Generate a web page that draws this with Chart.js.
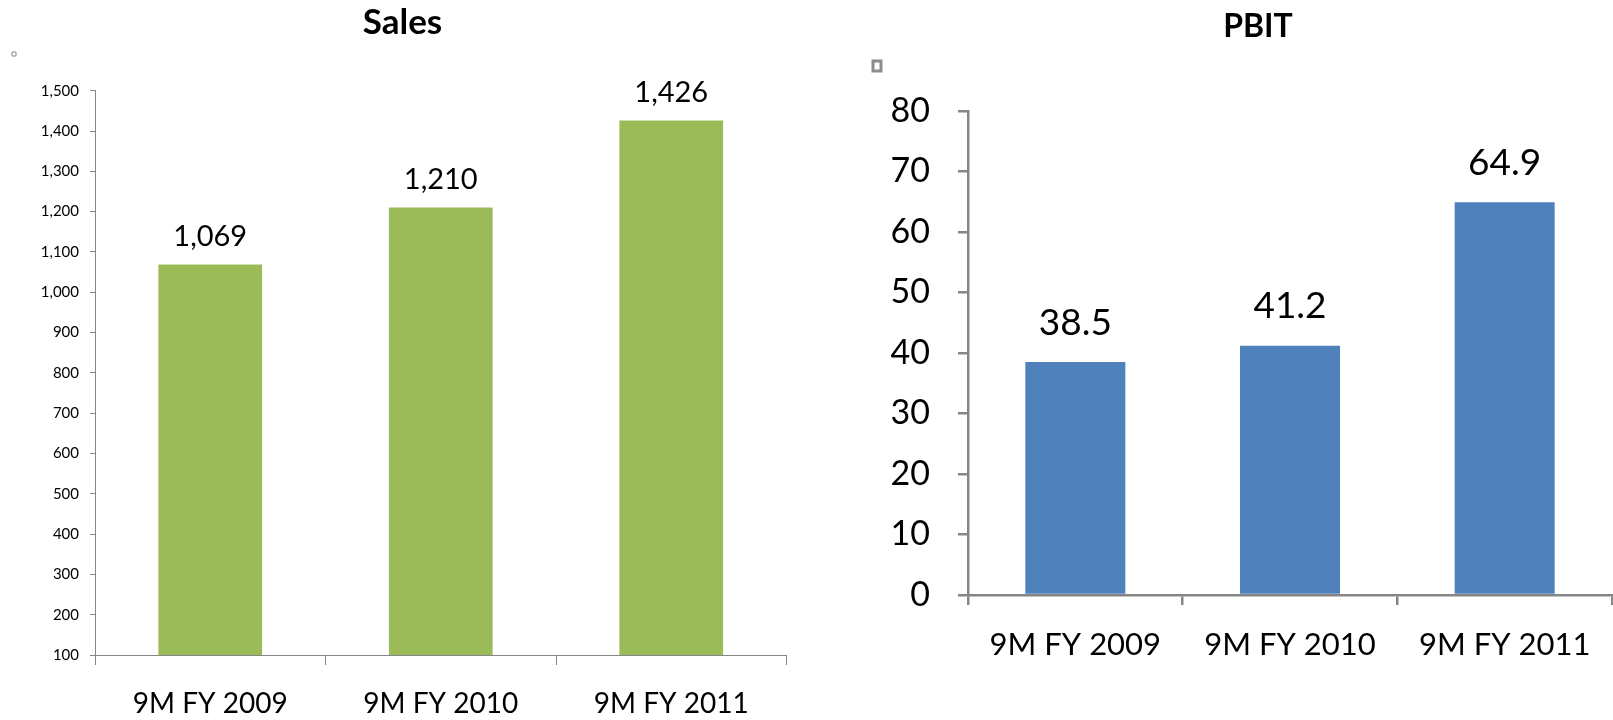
<!DOCTYPE html>
<html>
<head>
<meta charset="utf-8">
<script src="https://cdn.jsdelivr.net/npm/chart.js@4.4.1/dist/chart.umd.min.js"></script>
<style>
  html, body { margin: 0; padding: 0; background: #fff; }
  body { width: 1613px; height: 720px; position: relative; overflow: hidden; }
  canvas { position: absolute; top: 0; }
</style>
</head>
<body>
<canvas id="sales" width="805" height="720" style="left:0px"></canvas>
<canvas id="pbit" width="800" height="720" style="left:858px"></canvas>
<script>
// ---- data ----
const categories = ['9M FY 2009', '9M FY 2010', '9M FY 2011'];
const salesValues = [1069, 1210, 1426];
const pbitValues = [38.5, 41.2, 64.9];
const salesYTicks = [100, 200, 300, 400, 500, 600, 700, 800, 900, 1000, 1100, 1200, 1300, 1400, 1500];
const pbitYTicks = [0, 10, 20, 30, 40, 50, 60, 70, 80];

const AXIS_GRAY = '#868686';
Chart.defaults.color = '#000';
Chart.defaults.font.family = 'Lato, "Open Sans", sans-serif';

const valueLabels = {
  id: 'valueLabels',
  afterDatasetsDraw(chart, args, opts) {
    const ctx = chart.ctx;
    const meta = chart.getDatasetMeta(0);
    const data = chart.data.datasets[0].data;
    ctx.save();
    ctx.font = opts.font;
    ctx.fillStyle = '#000';
    ctx.textAlign = 'center';
    ctx.textBaseline = 'middle';
    meta.data.forEach((bar, i) => {
      ctx.fillText(opts.format(data[i]), bar.x, bar.y - opts.offset);
    });
    ctx.restore();
  }
};

function emptyLegend(boxStroke, lineWidth) {
  return () => [{ text: '', fillStyle: '#fff', strokeStyle: boxStroke, lineWidth: lineWidth, hidden: false, datasetIndex: 0 }];
}

function dummyTop(h) {
  return { type: 'linear', position: 'top', display: true,
    grid: { display: false, drawTicks: false }, border: { display: false },
    ticks: { display: false }, afterFit: s => { s.height = h; } };
}
function dummyRight(w) {
  return { type: 'linear', position: 'right', display: true,
    grid: { display: false, drawTicks: false }, border: { display: false },
    ticks: { display: false }, afterFit: s => { s.width = w; } };
}

// ---- Sales chart ----
new Chart(document.getElementById('sales'), {
  type: 'bar',
  data: {
    labels: categories,
    datasets: [{
      label: 'Sales',
      data: salesValues,
      backgroundColor: '#9BBB59',
      borderWidth: 0,
      barPercentage: 0.45,
      categoryPercentage: 1.0,
      xAxisID: 'x', yAxisID: 'y'
    }]
  },
  options: {
    responsive: false,
    animation: false,
    layout: { padding: 0 },
    plugins: {
      title: { display: true, text: 'Sales', font: { family: 'Lato', weight: 'bold', size: 35, lineHeight: 1 }, padding: { top: 5, bottom: 0 }, color: '#000' },
      legend: { display: true, position: 'top', align: 'start',
        labels: { boxWidth: 4, boxHeight: 4, padding: 12, font: { size: 4 }, generateLabels: emptyLegend(AXIS_GRAY, 1) } },
      tooltip: { enabled: false },
      valueLabels: { font: '29px Lato', offset: 28, format: v => v.toLocaleString('en-US') }
    },
    scales: {
      x: {
        position: 'bottom',
        grid: { offset: true, drawOnChartArea: false, tickLength: 10, color: AXIS_GRAY, lineWidth: 1 },
        border: { color: AXIS_GRAY, width: 1 },
        ticks: { font: { family: 'Lato', size: 28 }, padding: 22, maxRotation: 0 },
        afterFit: s => { s.height = 65; }
      },
      y: {
        position: 'left',
        min: salesYTicks[0], max: salesYTicks[salesYTicks.length - 1],
        afterBuildTicks: s => { s.ticks = salesYTicks.map(v => ({ value: v })); },
        grid: { drawOnChartArea: false, tickLength: 5, color: AXIS_GRAY, lineWidth: 1 },
        border: { color: AXIS_GRAY, width: 1 },
        ticks: { font: { family: 'Lato', size: 15 }, padding: 11, callback: v => v.toLocaleString('en-US') },
        afterFit: s => { s.width = 95; }
      },
      padTop: dummyTop(24.7),
      padRight: dummyRight(18.5)
    }
  },
  plugins: [valueLabels]
});

// ---- PBIT chart ----
new Chart(document.getElementById('pbit'), {
  type: 'bar',
  data: {
    labels: categories,
    datasets: [{
      label: 'PBIT',
      data: pbitValues,
      backgroundColor: '#4F81BD',
      borderWidth: 0,
      barPercentage: 0.466,
      categoryPercentage: 1.0,
      xAxisID: 'x', yAxisID: 'y'
    }]
  },
  options: {
    responsive: false,
    animation: false,
    layout: { padding: 0 },
    plugins: {
      title: { display: true, text: 'PBIT', font: { family: 'Lato', weight: 'bold', size: 32, lineHeight: 1 }, padding: { top: 11, bottom: 0 }, color: '#000' },
      legend: { display: true, position: 'top', align: 'start',
        labels: { boxWidth: 8, boxHeight: 10, padding: 15, font: { size: 16 }, generateLabels: emptyLegend('#8C8C8C', 3) } },
      tooltip: { enabled: false },
      valueLabels: { font: '37px Lato', offset: 39.5, format: v => v.toFixed(1) }
    },
    scales: {
      x: {
        position: 'bottom',
        grid: { offset: true, drawOnChartArea: false, tickLength: 10, color: AXIS_GRAY, lineWidth: 2.5 },
        border: { color: AXIS_GRAY, width: 2.5 },
        ticks: { font: { family: 'Lato', size: 31 }, padding: 21, maxRotation: 0 },
        afterFit: s => { s.height = 125; }
      },
      y: {
        position: 'left',
        min: pbitYTicks[0], max: pbitYTicks[pbitYTicks.length - 1],
        afterBuildTicks: s => { s.ticks = pbitYTicks.map(v => ({ value: v })); },
        grid: { drawOnChartArea: false, tickLength: 10, color: AXIS_GRAY, lineWidth: 2.5 },
        border: { color: AXIS_GRAY, width: 2.5 },
        ticks: { font: { family: 'Lato', size: 34 }, padding: 28 },
        afterFit: s => { s.width = 110; }
      },
      padTop: dummyTop(27),
      padRight: dummyRight(46)
    }
  },
  plugins: [valueLabels]
});
</script>
</body>
</html>
